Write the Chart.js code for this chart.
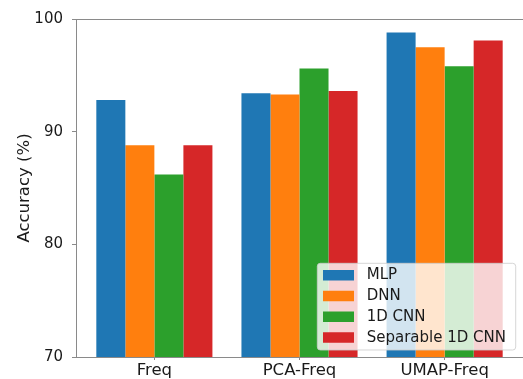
<!DOCTYPE html>
<html>
<head>
<meta charset="utf-8">
<script src="https://cdn.jsdelivr.net/npm/chart.js@4.4.1/dist/chart.umd.min.js"></script>
<style>
  html, body { margin: 0; padding: 0; background: #ffffff; }
  #wrap { width: 523px; height: 379px; }
</style>
</head>
<body>
<div id="wrap"><canvas id="c" width="523" height="379"></canvas></div>
<script>
// Accuracy per feature set and model
const categories = ['Freq', 'PCA-Freq', 'UMAP-Freq'];
const seriesNames = ['MLP', 'DNN', '1D CNN', 'Separable 1D CNN'];
const mlp = [92.8, 93.4, 98.8];
const dnn = [88.8, 93.3, 97.5];
const cnn1d = [86.2, 95.6, 95.8];
const sepCnn1d = [88.8, 93.6, 98.1];
const yTicks = [70, 80, 90, 100];

const colors = ['#1f77b4', '#ff7f0e', '#2ca02c', '#d62728'];
const seriesValues = [mlp, dnn, cnn1d, sepCnn1d];
const FONT = "'DejaVu Sans', 'Liberation Sans', sans-serif";
const AXIS_COLOR = '#8a8a8a';

const datasets = seriesValues.map((vals, s) => ({
  label: seriesNames[s],
  data: vals.map((v, i) => ({ x: i, y: v })),
  backgroundColor: colors[s],
  borderWidth: 0,
  categoryPercentage: 0.8,
  barPercentage: 1.0
}));

// Top spine of the plot area plus a boxed legend in the lower right
const framePlugin = {
  id: 'frame',
  afterDraw(chart) {
    const { ctx, chartArea: a } = chart;
    ctx.save();
    ctx.strokeStyle = AXIS_COLOR;
    ctx.lineWidth = 1;
    ctx.beginPath();
    ctx.moveTo(a.left, a.top + 0.5);
    ctx.lineTo(a.right, a.top + 0.5);
    ctx.stroke();

    // legend box
    const x0 = a.right - 205.7, y0 = a.bottom - 93.7, w = 198.4, h = 86.7, r = 3;
    ctx.beginPath();
    ctx.moveTo(x0 + r, y0);
    ctx.lineTo(x0 + w - r, y0);
    ctx.quadraticCurveTo(x0 + w, y0, x0 + w, y0 + r);
    ctx.lineTo(x0 + w, y0 + h - r);
    ctx.quadraticCurveTo(x0 + w, y0 + h, x0 + w - r, y0 + h);
    ctx.lineTo(x0 + r, y0 + h);
    ctx.quadraticCurveTo(x0, y0 + h, x0, y0 + h - r);
    ctx.lineTo(x0, y0 + r);
    ctx.quadraticCurveTo(x0, y0, x0 + r, y0);
    ctx.closePath();
    ctx.fillStyle = 'rgba(255,255,255,0.8)';
    ctx.fill();
    ctx.strokeStyle = 'rgba(204,204,204,0.8)';
    ctx.stroke();

    ctx.font = '15px ' + FONT;
    ctx.textBaseline = 'middle';
    ctx.textAlign = 'left';
    chart.data.datasets.forEach((ds, i) => {
      const cy = y0 + 11.7 + i * 20.75;
      ctx.fillStyle = ds.backgroundColor;
      ctx.fillRect(x0 + 5.7, cy - 5, 31, 10.5);
      ctx.fillStyle = '#1a1a1a';
      ctx.fillText(ds.label, x0 + 49.4, cy + 0.5);
    });
    ctx.restore();
  }
};

new Chart(document.getElementById('c'), {
  type: 'bar',
  data: { datasets },
  plugins: [framePlugin],
  options: {
    responsive: false,
    animation: false,
    layout: { padding: { top: 19, right: 0, left: 0, bottom: 0 } },
    plugins: { legend: { display: false }, tooltip: { enabled: false } },
    scales: {
      x: {
        type: 'linear',
        offset: false,
        min: -0.54,
        max: 2.54,
        afterBuildTicks: (scale) => { scale.ticks = categories.map((_, i) => ({ value: i })); },
        afterFit: (scale) => { scale.height = 22; },
        ticks: {
          callback: (v) => categories[v],
          font: { family: FONT, size: 16.5 },
          color: '#1a1a1a',
          padding: 1,
          maxRotation: 0,
          autoSkip: false
        },
        grid: { offset: false, drawOnChartArea: false, drawTicks: true, tickLength: 3, color: AXIS_COLOR },
        border: { display: true, color: AXIS_COLOR, width: 1 }
      },
      y: {
        min: 70,
        max: 100,
        afterBuildTicks: (scale) => { scale.ticks = yTicks.map(v => ({ value: v })); },
        afterFit: (scale) => { scale.width = 76; },
        ticks: {
          font: { family: FONT, size: 15 },
          color: '#1a1a1a',
          padding: 9
        },
        grid: { drawOnChartArea: false, drawTicks: true, tickLength: 4, color: AXIS_COLOR },
        border: { display: true, color: AXIS_COLOR, width: 1 },
        title: {
          display: true,
          text: 'Accuracy (%)',
          font: { family: FONT, size: 16.5 },
          color: '#1a1a1a',
          padding: { top: 15, bottom: 0 }
        }
      }
    }
  }
});
</script>
</body>
</html>
